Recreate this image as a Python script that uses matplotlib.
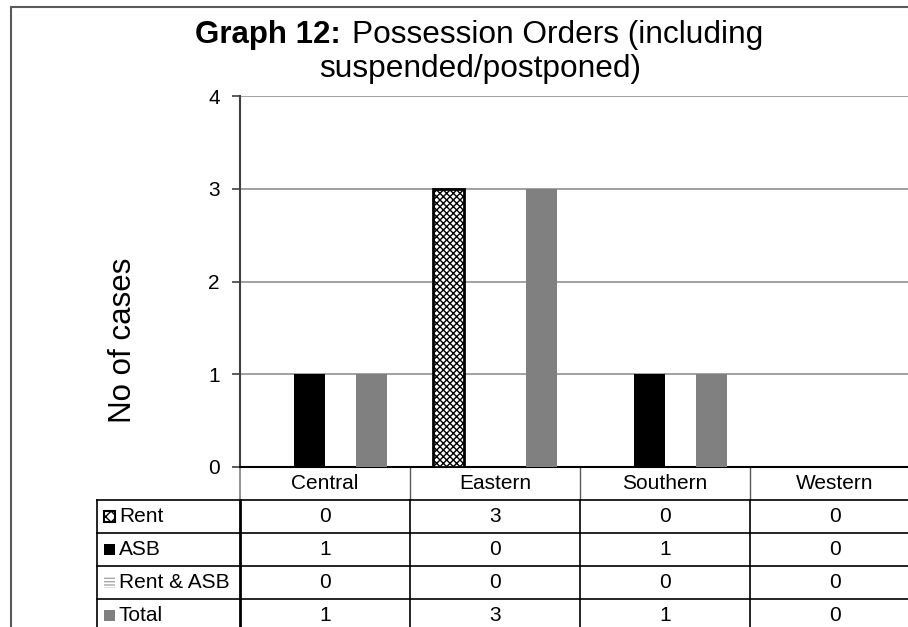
import numpy as np
import matplotlib
matplotlib.use('Agg')
import matplotlib.pyplot as plt
from matplotlib.patches import Rectangle
from matplotlib.transforms import blended_transform_factory

plt.rcParams['font.family'] = ['Liberation Sans', 'DejaVu Sans']
plt.rcParams['hatch.linewidth'] = 1.0

# Data
regions = ['Central', 'Eastern', 'Southern', 'Western']
series_names = ['Rent', 'ASB', 'Rent & ASB', 'Total']
rent = [0, 3, 0, 0]
asb = [1, 0, 1, 0]
rent_asb = [0, 0, 0, 0]
total = [1, 3, 1, 0]
yticks = [0, 1, 2, 3, 4]

W, H = 908, 627
fig = plt.figure(figsize=(W / 100, H / 100), dpi=100)

# plot area in pixel terms -> figure fractions
left_px, right_px, top_px, bot_px = 240, 920, 96, 467
ax = fig.add_axes([left_px / W, 1 - bot_px / H,
                   (right_px - left_px) / W, (bot_px - top_px) / H])

x = np.arange(len(regions))
w = 31 / 170
styles = [
    dict(color='white', edgecolor='black', hatch='xxxxx'),
    dict(color='black', edgecolor='black'),
    dict(color='white', edgecolor='#a6a6a6', hatch='-----'),
    dict(color='#808080', edgecolor='#808080'),
]
all_series = [rent, asb, rent_asb, total]
for i, (vals, st) in enumerate(zip(all_series, styles)):
    vals = np.array(vals)
    lw = np.where(vals > 0, 2.0 if i == 0 else 0.0, 0.0)
    ax.bar(x + (i - 1.5) * w, vals, w, linewidth=lw, zorder=3, **st)

ax.set_xlim(-0.5, 3.5)
ax.set_ylim(0, 4)
ax.set_yticks(yticks)
ax.set_xticks([])
ax.yaxis.grid(True, color='#a0a0a0', linewidth=1.4)
ax.set_axisbelow(True)
for s in ['top', 'right']:
    ax.spines[s].set_visible(False)
ax.spines['left'].set_color('#404040')
ax.spines['left'].set_linewidth(1.5)
ax.spines['bottom'].set_color('black')
ax.spines['bottom'].set_linewidth(1.5)
ax.tick_params(axis='y', length=6, width=1.2, color='#404040',
               pad=8.5, labelsize=15)

# data table under the plot
tr = blended_transform_factory(ax.transData, ax.transAxes)
rh = 33 / (bot_px - top_px)
lab_left = (97 - left_px) / 170 - 0.5
nrows = len(series_names)
line_kw = dict(transform=tr, clip_on=False, color='black', linewidth=1.2)

# header row with region names
for j, name in enumerate(regions):
    ax.text(j, -rh / 2, name, transform=tr, ha='center', va='center', fontsize=15)
for xb in [0.5, 1.5, 2.5]:
    ax.plot([xb, xb], [0, -rh], color='#595959', linewidth=1.0,
            transform=tr, clip_on=False)
ax.plot([-0.5, -0.5], [0, -rh], color='#808080', linewidth=1.2,
        transform=tr, clip_on=False)

for r, (name, vals) in enumerate(zip(series_names, all_series)):
    y0 = -(r + 1) * rh
    y1 = y0 - rh
    ax.plot([lab_left, 3.5], [y0, y0], **line_kw)
    yc = (y0 + y1) / 2
    ax.text((119 - left_px) / 170 - 0.5, yc, name, transform=tr,
            ha='left', va='center', fontsize=15)
    for j, v in enumerate(vals):
        ax.text(j, yc, str(v), transform=tr, ha='center', va='center', fontsize=15)

# vertical table rules
ax.plot([lab_left, lab_left], [-rh, -(nrows + 1) * rh], **line_kw)
ax.plot([-0.5, -0.5], [-rh, -(nrows + 1) * rh], color='black', linewidth=2.0,
        transform=tr, clip_on=False)
for xb in [0.5, 1.5, 2.5]:
    ax.plot([xb, xb], [-rh, -(nrows + 1) * rh], **line_kw)

# legend keys inside the row labels
key_w = 11 / 170
key_h = 11 / (bot_px - top_px)
kx = (104 - left_px) / 170 - 0.5
key_styles = [
    dict(facecolor='white', edgecolor='black', hatch='xxx', linewidth=1.5),
    dict(facecolor='black', edgecolor='black', linewidth=0),
    dict(facecolor='white', edgecolor='#a6a6a6', hatch='-----', linewidth=0),
    dict(facecolor='#808080', edgecolor='#808080', linewidth=0),
]
for r, ks in enumerate(key_styles):
    yc = -(r + 1.5) * rh
    ax.add_patch(Rectangle((kx, yc - key_h / 2), key_w, key_h, transform=tr,
                           clip_on=False, **ks))

# title: bold prefix followed by the regular part
fig.text(195 / W, 1 - 43 / H, 'Graph 12:', fontsize=22.5, fontweight='bold',
         ha='left', va='baseline')
fig.text(352 / W, 1 - 43 / H, 'Possession Orders (including', fontsize=22.8,
         ha='left', va='baseline')
fig.text(480 / W, 1 - 77 / H, 'suspended/postponed)', fontsize=22.8,
         ha='center', va='baseline')

fig.text(123 / W, 1 - 340 / H, 'No of cases', rotation=90, fontsize=22.5,
         ha='center', va='center')

# outer chart border
fig.patches.append(Rectangle((11 / W, -0.1), 1.2, 1 - 7 / H + 0.1,
                             transform=fig.transFigure, fill=False,
                             edgecolor='#595959', linewidth=1.5))

fig.savefig('out.png', dpi=100)
